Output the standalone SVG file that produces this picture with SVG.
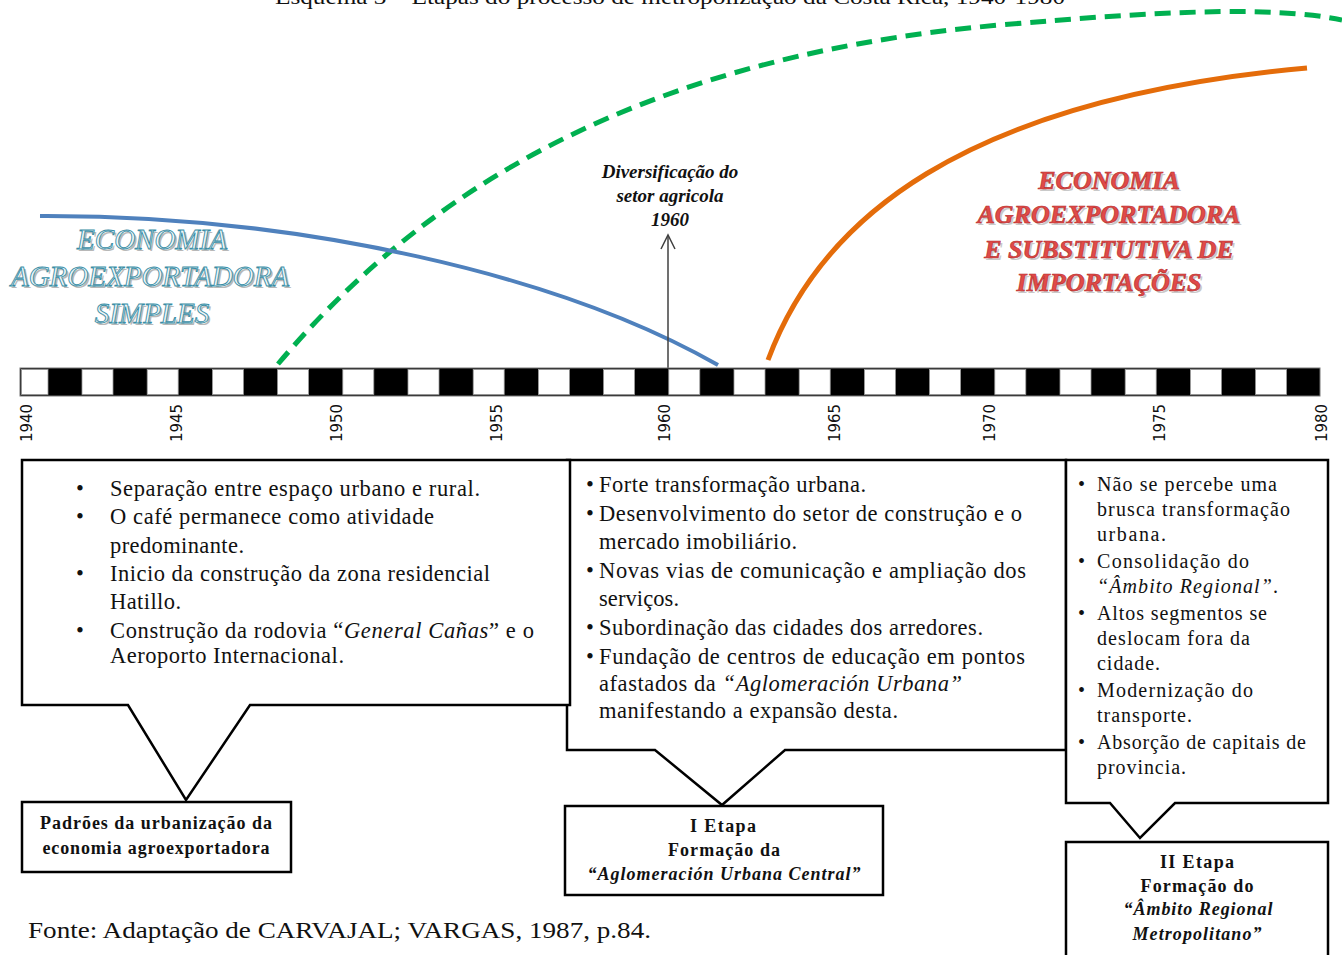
<svg xmlns="http://www.w3.org/2000/svg" width="1342" height="955" viewBox="0 0 1342 955">
<defs>
<style>
.t{font-family:"Liberation Serif","Times New Roman",serif;fill:#111;}
.bx{font-size:22.5px;}
.b3{font-size:20px;}
.lb{font-size:18px;font-weight:bold;text-anchor:middle;}
.yr{font-family:"DejaVu Sans",Verdana,sans-serif;font-size:15px;fill:#111;text-anchor:middle;}
.box{fill:#fff;stroke:#000;stroke-width:2.5;}
.sq{fill:#fff;stroke:#999;stroke-width:0.8;}
.lt{font-family:"Liberation Serif","Times New Roman",serif;font-style:italic;font-size:29px;text-anchor:middle;}
.rt{font-family:"Liberation Serif","Times New Roman",serif;font-style:italic;font-weight:bold;font-size:26px;text-anchor:middle;}
</style>
</defs>
<rect width="1342" height="955" fill="#fff"/>
<text class="t" x="275" y="4" font-size="21" textLength="790" lengthAdjust="spacingAndGlyphs">Esquema 3 – Etapas do processo de metropolização da Costa Rica, 1940-1980</text>

<g id="curves">
<path d="M278,364 C400,220 600,60 1000,25 C1150,12 1270,5 1342,20" fill="none" stroke="#00b050" stroke-width="5" stroke-dasharray="16 9"/>
<path d="M40,216 C300,215 560,275 718,365" fill="none" stroke="#4f81bd" stroke-width="4"/>
<path d="M768,360 C820,220 960,100 1307,68" fill="none" stroke="#e46c0a" stroke-width="5"/>
</g>

<g id="label-simples">
<g class="lt" fill="#b8b8b8">
<text x="154" y="251">ECONOMIA</text>
<text x="152" y="288">AGROEXPORTADORA</text>
<text x="154" y="325">SIMPLES</text>
</g>
<g class="lt" fill="#eef7fa" stroke="#3a8ea6" stroke-width="0.9">
<text x="152" y="249">ECONOMIA</text>
<text x="150" y="286">AGROEXPORTADORA</text>
<text x="152" y="323">SIMPLES</text>
</g>
</g>

<g id="label-substitutiva">
<g class="rt" fill="#c9c9c9">
<text x="1111" y="191">ECONOMIA</text>
<text x="1111" y="225">AGROEXPORTADORA</text>
<text x="1111" y="260">E SUBSTITUTIVA DE</text>
<text x="1111" y="293">IMPORTAÇÕES</text>
</g>
<g class="rt" fill="#e04a48" stroke="#b42a2a" stroke-width="0.6">
<text x="1109" y="189">ECONOMIA</text>
<text x="1109" y="223">AGROEXPORTADORA</text>
<text x="1109" y="258">E SUBSTITUTIVA DE</text>
<text x="1109" y="291">IMPORTAÇÕES</text>
</g>
</g>

<g id="diversificacao">
<line x1="668" y1="368" x2="668" y2="236" stroke="#404040" stroke-width="1.5"/>
<polyline points="661,249 668,235 675,249" fill="none" stroke="#404040" stroke-width="1.5"/>
<g class="t" font-size="19" font-style="italic" font-weight="bold" text-anchor="middle" fill="#1a1a2a">
<text x="670" y="178">Diversificação do</text>
<text x="670" y="202">setor agricola</text>
<text x="670" y="226">1960</text>
</g>
</g>

<g id="timeline">
<rect x="20" y="368" width="1300" height="28" fill="#000" stroke="#777" stroke-width="1"/>
<rect class="sq" x="21.5" y="369.5" width="26.5" height="25"/>
<rect class="sq" x="82" y="369.5" width="31" height="25"/>
<rect class="sq" x="147.2" y="369.5" width="31" height="25"/>
<rect class="sq" x="212.4" y="369.5" width="31" height="25"/>
<rect class="sq" x="277.6" y="369.5" width="31" height="25"/>
<rect class="sq" x="342.8" y="369.5" width="31" height="25"/>
<rect class="sq" x="408" y="369.5" width="31" height="25"/>
<rect class="sq" x="473.2" y="369.5" width="31" height="25"/>
<rect class="sq" x="538.4" y="369.5" width="31" height="25"/>
<rect class="sq" x="603.6" y="369.5" width="31" height="25"/>
<rect class="sq" x="668.8" y="369.5" width="31" height="25"/>
<rect class="sq" x="734" y="369.5" width="31" height="25"/>
<rect class="sq" x="799.2" y="369.5" width="31" height="25"/>
<rect class="sq" x="864.4" y="369.5" width="31" height="25"/>
<rect class="sq" x="929.6" y="369.5" width="31" height="25"/>
<rect class="sq" x="994.8" y="369.5" width="31" height="25"/>
<rect class="sq" x="1060" y="369.5" width="31" height="25"/>
<rect class="sq" x="1125.2" y="369.5" width="31" height="25"/>
<rect class="sq" x="1190.4" y="369.5" width="31" height="25"/>
<rect class="sq" x="1255.6" y="369.5" width="31" height="25"/>
<text class="yr" transform="translate(32,423) rotate(-90)">1940</text>
<text class="yr" transform="translate(182,423) rotate(-90)">1945</text>
<text class="yr" transform="translate(342,423) rotate(-90)">1950</text>
<text class="yr" transform="translate(502,423) rotate(-90)">1955</text>
<text class="yr" transform="translate(670,423) rotate(-90)">1960</text>
<text class="yr" transform="translate(840,423) rotate(-90)">1965</text>
<text class="yr" transform="translate(995,423) rotate(-90)">1970</text>
<text class="yr" transform="translate(1165,423) rotate(-90)">1975</text>
<text class="yr" transform="translate(1327,423) rotate(-90)">1980</text>
</g>

<g id="box-etapa1">
<path class="box" d="M567,460 H1066 V750 H785 L722,805 L655,750 H567 Z"/>
<g class="t bx">
<text x="586" y="492">•</text><text x="599" y="492" textLength="267">Forte transformação urbana.</text>
<text x="586" y="521">•</text><text x="599" y="521" textLength="423">Desenvolvimento do setor de construção e o</text>
<text x="599" y="549" textLength="198">mercado imobiliário.</text>
<text x="586" y="578">•</text><text x="599" y="578" textLength="427">Novas vias de comunicação e ampliação dos</text>
<text x="599" y="606" textLength="80">serviços.</text>
<text x="586" y="635">•</text><text x="599" y="635" textLength="384">Subordinação das cidades dos arredores.</text>
<text x="586" y="664">•</text><text x="599" y="664" textLength="426">Fundação de centros de educação em pontos</text>
<text x="599" y="691" textLength="363">afastados da <tspan font-style="italic">“Aglomeración Urbana”</tspan></text>
<text x="599" y="718" textLength="299">manifestando a expansão desta.</text>
</g>
</g>

<g id="box-padroes">
<path class="box" d="M22,460 H570 V705 H250 L186,800 L128,705 H22 Z"/>
<g class="t bx">
<text x="76" y="496">•</text><text x="110" y="496" textLength="370">Separação entre espaço urbano e rural.</text>
<text x="76" y="524">•</text><text x="110" y="524" textLength="324">O café permanece como atividade</text>
<text x="110" y="553" textLength="134">predominante.</text>
<text x="76" y="581">•</text><text x="110" y="581" textLength="380">Inicio da construção da zona residencial</text>
<text x="110" y="609" textLength="71">Hatillo.</text>
<text x="76" y="638">•</text><text x="110" y="638" textLength="424">Construção da rodovia “<tspan font-style="italic">General Cañas</tspan>” e o</text>
<text x="110" y="663" textLength="234">Aeroporto Internacional.</text>
</g>
</g>

<g id="box-etapa2">
<path class="box" d="M1066,460 H1328 V803 H1175 L1140,838 L1110,803 H1066 Z"/>
<g class="t b3">
<text x="1078" y="491">•</text><text x="1097" y="491" textLength="180">Não se percebe uma</text>
<text x="1097" y="516" textLength="193">brusca transformação</text>
<text x="1097" y="541" textLength="69">urbana.</text>
<text x="1078" y="568">•</text><text x="1097" y="568" textLength="152">Consolidação do</text>
<text x="1097" y="593" textLength="181"><tspan font-style="italic">“Âmbito Regional”</tspan>.</text>
<text x="1078" y="620">•</text><text x="1097" y="620" textLength="170">Altos segmentos se</text>
<text x="1097" y="645" textLength="153">deslocam fora da</text>
<text x="1097" y="670" textLength="63">cidade.</text>
<text x="1078" y="697">•</text><text x="1097" y="697" textLength="156">Modernização do</text>
<text x="1097" y="722" textLength="95">transporte.</text>
<text x="1078" y="749">•</text><text x="1097" y="749" textLength="209">Absorção de capitais de</text>
<text x="1097" y="774" textLength="89">provincia.</text>
</g>
</g>

<g id="label-padroes">
<rect class="box" x="22" y="802" width="269" height="70"/>
<g class="t lb">
<text x="156" y="829" textLength="232">Padrões da urbanização da</text>
<text x="156" y="854" textLength="227">economia agroexportadora</text>
</g>
</g>

<g id="label-etapa1">
<rect class="box" x="565" y="806" width="318" height="89"/>
<g class="t lb">
<text x="723" y="832" textLength="66">I Etapa</text>
<text x="724" y="856" textLength="112">Formação da</text>
<text x="724" y="880" textLength="273" font-style="italic">“Aglomeración Urbana Central”</text>
</g>
</g>

<g id="label-etapa2">
<rect class="box" x="1066" y="842" width="262" height="120"/>
<g class="t lb">
<text x="1197" y="868" textLength="74">II Etapa</text>
<text x="1197" y="892" textLength="113">Formação do</text>
<text x="1198" y="915" textLength="149" font-style="italic">“Âmbito Regional</text>
<text x="1197" y="940" textLength="129" font-style="italic">Metropolitano”</text>
</g>
</g>

<text class="t" x="28" y="938" font-size="24" textLength="623" lengthAdjust="spacingAndGlyphs">Fonte: Adaptação de CARVAJAL; VARGAS, 1987, p.84.</text>
</svg>
